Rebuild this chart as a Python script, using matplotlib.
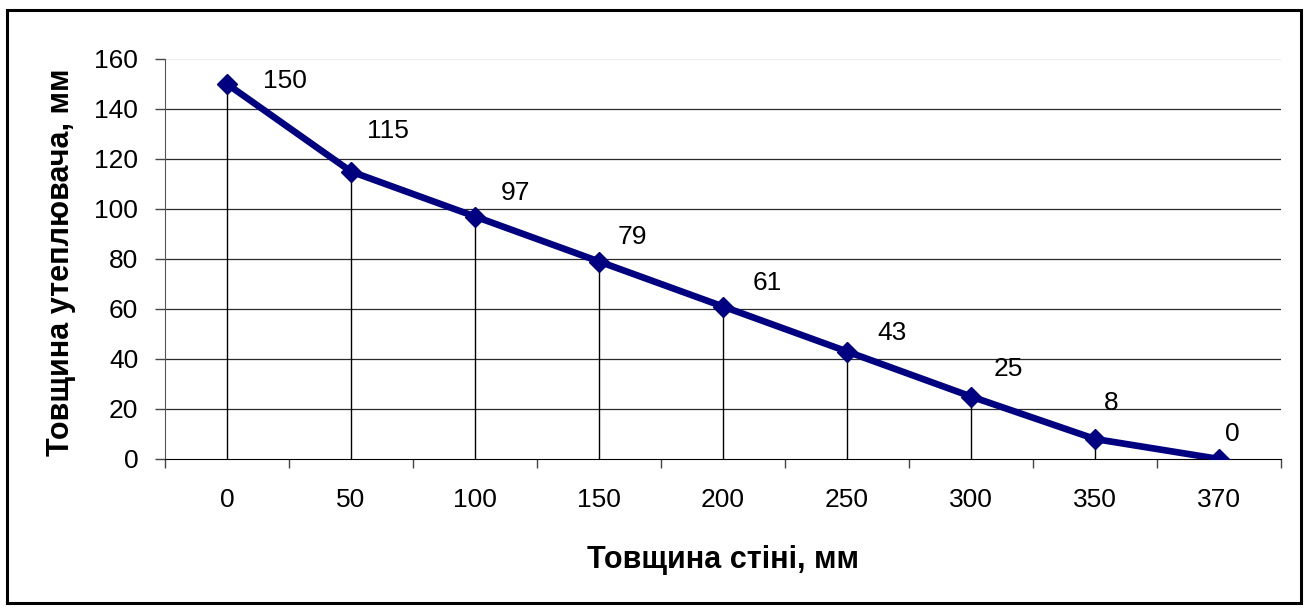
import matplotlib
matplotlib.use("Agg")
import matplotlib.pyplot as plt
from matplotlib.patches import Rectangle

plt.rcParams['font.family'] = ['Liberation Sans', 'DejaVu Sans']

categories = ['0', '50', '100', '150', '200', '250', '300', '350', '370']
values = [150, 115, 97, 79, 61, 43, 25, 8, 0]
y_ticks = [0, 20, 40, 60, 80, 100, 120, 140, 160]
x_label = 'Товщина стіні, мм'
y_label = 'Товщина утеплювача, мм'

# data-label offsets in pixels (style only)
label_offsets = [(58, 3), (37, 40), (41, 23), (33, 25), (44, 23), (45, 19), (37, 27), (16, 36), (13, 25)]

W, H = 1307, 608
fig = plt.figure(figsize=(W / 100, H / 100), dpi=100)
ax = fig.add_axes([165 / W, 1 - 459 / H, (1281 - 165) / W, (459 - 59) / H])

x = list(range(len(categories)))
ax.set_xlim(-0.5, len(categories) - 0.5)
ax.set_ylim(0, 160)

for yt in y_ticks[1:-1]:
    ax.axhline(yt, color='#2a2a2a', lw=0.9, zorder=1)
ax.axhline(y_ticks[-1], color='#eeeeee', lw=0.9, zorder=1)

ax.vlines(x, 0, values, color='black', lw=1.0, zorder=2)
ax.plot(x, values, color='#000080', lw=4.8, marker='D', markersize=10,
        markeredgewidth=1, solid_joinstyle='miter', zorder=3)

for xi, v, (dx, dy) in zip(x, values, label_offsets):
    ax.annotate(str(v), (xi, v), xytext=(dx, dy), textcoords='offset pixels',
                ha='center', va='center', fontsize=19)

ax.set_yticks(y_ticks)
ax.set_yticklabels([str(t) for t in y_ticks], fontsize=19)
ax.set_xticks(x)
ax.set_xticklabels(categories, fontsize=19)
ax.tick_params(axis='x', length=0, pad=21)
ax.set_xticks([i - 0.5 for i in range(len(categories) + 1)], minor=True)
ax.tick_params(axis='x', which='minor', length=6.5, width=1, direction='out', color='#444444')
ax.tick_params(axis='y', length=7.2, width=1, direction='out', pad=12, color='#444444')

for s in ['top', 'right']:
    ax.spines[s].set_visible(False)
ax.spines['left'].set_color('#555555')
ax.spines['bottom'].set_color('black')

fig.text(723 / W, 1 - 568 / H, x_label, ha='center', va='baseline', fontsize=22, fontweight='bold')
fig.text(61 / W, 1 - 262 / H, y_label, ha='center', va='center', fontsize=22, fontweight='bold', rotation=90)

fig.patches.append(Rectangle((6.5 / W, 1 - 603 / H), (1300.5 - 6.5) / W, (603 - 9.5) / H,
                             transform=fig.transFigure, fill=False, edgecolor='black', lw=2.2))

fig.savefig('out.png', dpi=100)
